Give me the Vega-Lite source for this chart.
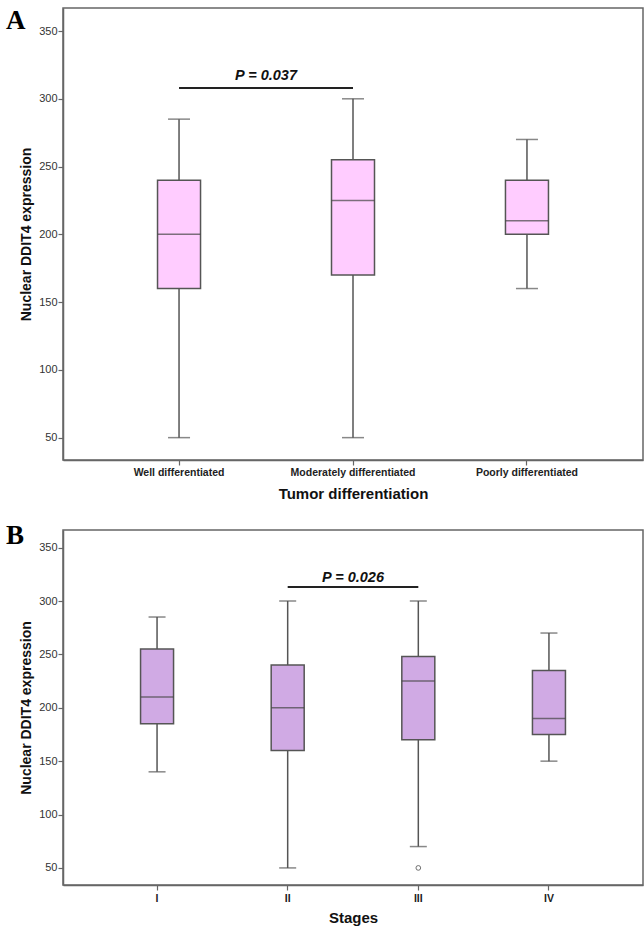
{
  "$schema": "https://vega.github.io/schema/vega-lite/v6.json",
  "padding": {"left": 5, "top": 6, "right": 0, "bottom": 0},
  "background": "white",
  "spacing": 70,
  "bounds": "flush",
  "config": {
    "font": "Liberation Sans",
    "view": {"stroke": "#666", "strokeWidth": 1.5},
    "axis": {"grid": false, "domainColor": "#666", "domainWidth": 1.5, "tickColor": "#666", "tickWidth": 1.2, "labelFont": "Liberation Sans", "titleFont": "Liberation Sans"}
  },
  "datasets": {
    "diff": [
      {"group": "Well differentiated", "lower": 50, "q1": 160, "median": 200, "q3": 240, "upper": 285},
      {"group": "Moderately differentiated", "lower": 50, "q1": 170, "median": 225, "q3": 255, "upper": 300},
      {"group": "Poorly differentiated", "lower": 160, "q1": 200, "median": 210, "q3": 240, "upper": 270}
    ],
    "diffP": [
      {"group": "Well differentiated", "group2": "Moderately differentiated", "y": 308, "ty": 317, "label": "P = 0.037"}
    ],
    "stage": [
      {"group": "I", "lower": 140, "q1": 185, "median": 210, "q3": 255, "upper": 285},
      {"group": "II", "lower": 50, "q1": 160, "median": 200, "q3": 240, "upper": 300},
      {"group": "III", "lower": 70, "q1": 170, "median": 225, "q3": 248, "upper": 300},
      {"group": "IV", "lower": 150, "q1": 175, "median": 190, "q3": 235, "upper": 270}
    ],
    "stageOut": [
      {"group": "III", "value": 50}
    ],
    "stageP": [
      {"group": "II", "group2": "III", "y": 313, "ty": 321.5, "label": "P = 0.026"}
    ]
  },
  "vconcat": [
    {
      "title": {"text": "A", "anchor": "start", "frame": "group", "font": "Liberation Serif", "fontSize": 27, "fontWeight": "bold", "color": "black", "dx": -57, "dy": 19, "offset": -29, "baseline": "alphabetic"},
      "width": 580,
      "height": 452,
      "layer": [
        {
          "data": {"name": "diff"},
          "mark": {"type": "rule", "color": "#555", "strokeWidth": 1.5},
          "encoding": {
            "x": {"field": "group", "type": "nominal", "title": "Tumor differentiation",
              "scale": {"domain": ["Well differentiated", "Moderately differentiated", "Poorly differentiated"], "paddingInner": 0, "paddingOuter": 0.167},
              "axis": {"labelAngle": 0, "labelFontSize": 10.5, "labelFontWeight": "bold", "labelColor": "#222", "tickSize": 5, "labelPadding": 2, "titleFontSize": 15, "titleFontWeight": "bold", "titlePadding": 9, "titleColor": "#111"}},
            "y": {"field": "lower", "type": "quantitative", "title": "Nuclear DDIT4 expression",
              "scale": {"domain": [33.5, 367], "nice": false, "zero": false},
              "axis": {"values": [50, 100, 150, 200, 250, 300, 350], "tickSize": 5, "labelPadding": 1, "labelFontSize": 11, "labelColor": "#333", "titleFontSize": 14, "titleFontWeight": "bold", "titleColor": "#111", "titlePadding": 5}},
            "y2": {"field": "upper"}
          }
        },
        {
          "data": {"name": "diff"},
          "mark": {"type": "tick", "color": "#555", "size": 22, "thickness": 1.5},
          "encoding": {
            "x": {"field": "group", "type": "nominal", "title": "Tumor differentiation"},
            "y": {"field": "lower", "type": "quantitative", "title": "Nuclear DDIT4 expression"}
          }
        },
        {
          "data": {"name": "diff"},
          "mark": {"type": "tick", "color": "#555", "size": 22, "thickness": 1.5},
          "encoding": {
            "x": {"field": "group", "type": "nominal", "title": "Tumor differentiation"},
            "y": {"field": "upper", "type": "quantitative", "title": "Nuclear DDIT4 expression"}
          }
        },
        {
          "data": {"name": "diff"},
          "mark": {"type": "bar", "fill": "#FFCCFF", "stroke": "#555", "strokeWidth": 1.5, "size": 43},
          "encoding": {
            "x": {"field": "group", "type": "nominal", "title": "Tumor differentiation"},
            "y": {"field": "q1", "type": "quantitative", "title": "Nuclear DDIT4 expression"},
            "y2": {"field": "q3"}
          }
        },
        {
          "data": {"name": "diff"},
          "mark": {"type": "tick", "color": "#444", "size": 43, "thickness": 1.5},
          "encoding": {
            "x": {"field": "group", "type": "nominal", "title": "Tumor differentiation"},
            "y": {"field": "median", "type": "quantitative", "title": "Nuclear DDIT4 expression"}
          }
        },
        {
          "data": {"name": "diffP"},
          "mark": {"type": "rule", "color": "#222", "strokeWidth": 2},
          "encoding": {
            "x": {"field": "group", "type": "nominal", "title": "Tumor differentiation", "bandPosition": 0.5},
            "x2": {"field": "group2"},
            "y": {"field": "y", "type": "quantitative", "title": "Nuclear DDIT4 expression"}
          }
        },
        {
          "data": {"name": "diffP"},
          "mark": {"type": "text", "fontSize": 14.5, "fontWeight": "bold", "fontStyle": "italic", "color": "#111", "baseline": "middle", "align": "center"},
          "encoding": {
            "x": {"field": "group", "type": "nominal", "title": "Tumor differentiation", "bandPosition": 1},
            "y": {"field": "ty", "type": "quantitative", "title": "Nuclear DDIT4 expression"},
            "text": {"field": "label"}
          }
        }
      ]
    },
    {
      "title": {"text": "B", "anchor": "start", "frame": "group", "font": "Liberation Serif", "fontSize": 27, "fontWeight": "bold", "color": "black", "dx": -57, "dy": 12.7, "offset": -28, "baseline": "alphabetic"},
      "width": 580,
      "height": 355,
      "layer": [
        {
          "data": {"name": "stage"},
          "mark": {"type": "rule", "color": "#555", "strokeWidth": 1.5},
          "encoding": {
            "x": {"field": "group", "type": "nominal", "title": "Stages",
              "scale": {"domain": ["I", "II", "III", "IV"], "paddingInner": 0, "paddingOuter": 0.22},
              "axis": {"labelAngle": 0, "labelFontSize": 10.5, "labelFontWeight": "bold", "labelColor": "#222", "tickSize": 5, "labelPadding": 3, "titleFontSize": 15, "titleFontWeight": "bold", "titlePadding": 7, "titleColor": "#111"}},
            "y": {"field": "lower", "type": "quantitative", "title": "Nuclear DDIT4 expression",
              "scale": {"domain": [34, 366.5], "nice": false, "zero": false},
              "axis": {"values": [50, 100, 150, 200, 250, 300, 350], "tickSize": 5, "labelPadding": 1, "labelFontSize": 11, "labelColor": "#333", "titleFontSize": 14, "titleFontWeight": "bold", "titleColor": "#111", "titlePadding": 5}},
            "y2": {"field": "upper"}
          }
        },
        {
          "data": {"name": "stage"},
          "mark": {"type": "tick", "color": "#555", "size": 17, "thickness": 1.5},
          "encoding": {
            "x": {"field": "group", "type": "nominal", "title": "Stages"},
            "y": {"field": "lower", "type": "quantitative", "title": "Nuclear DDIT4 expression"}
          }
        },
        {
          "data": {"name": "stage"},
          "mark": {"type": "tick", "color": "#555", "size": 17, "thickness": 1.5},
          "encoding": {
            "x": {"field": "group", "type": "nominal", "title": "Stages"},
            "y": {"field": "upper", "type": "quantitative", "title": "Nuclear DDIT4 expression"}
          }
        },
        {
          "data": {"name": "stage"},
          "mark": {"type": "bar", "fill": "#D0AAE4", "stroke": "#555", "strokeWidth": 1.5, "size": 33},
          "encoding": {
            "x": {"field": "group", "type": "nominal", "title": "Stages"},
            "y": {"field": "q1", "type": "quantitative", "title": "Nuclear DDIT4 expression"},
            "y2": {"field": "q3"}
          }
        },
        {
          "data": {"name": "stage"},
          "mark": {"type": "tick", "color": "#444", "size": 33, "thickness": 1.5},
          "encoding": {
            "x": {"field": "group", "type": "nominal", "title": "Stages"},
            "y": {"field": "median", "type": "quantitative", "title": "Nuclear DDIT4 expression"}
          }
        },
        {
          "data": {"name": "stageOut"},
          "mark": {"type": "point", "shape": "circle", "filled": false, "size": 22, "stroke": "#333", "strokeWidth": 1},
          "encoding": {
            "x": {"field": "group", "type": "nominal", "title": "Stages"},
            "y": {"field": "value", "type": "quantitative", "title": "Nuclear DDIT4 expression"}
          }
        },
        {
          "data": {"name": "stageP"},
          "mark": {"type": "rule", "color": "#222", "strokeWidth": 2},
          "encoding": {
            "x": {"field": "group", "type": "nominal", "title": "Stages", "bandPosition": 0.5},
            "x2": {"field": "group2"},
            "y": {"field": "y", "type": "quantitative", "title": "Nuclear DDIT4 expression"}
          }
        },
        {
          "data": {"name": "stageP"},
          "mark": {"type": "text", "fontSize": 14.5, "fontWeight": "bold", "fontStyle": "italic", "color": "#111", "baseline": "middle", "align": "center"},
          "encoding": {
            "x": {"field": "group", "type": "nominal", "title": "Stages", "bandPosition": 1},
            "y": {"field": "ty", "type": "quantitative", "title": "Nuclear DDIT4 expression"},
            "text": {"field": "label"}
          }
        }
      ]
    }
  ]
}
